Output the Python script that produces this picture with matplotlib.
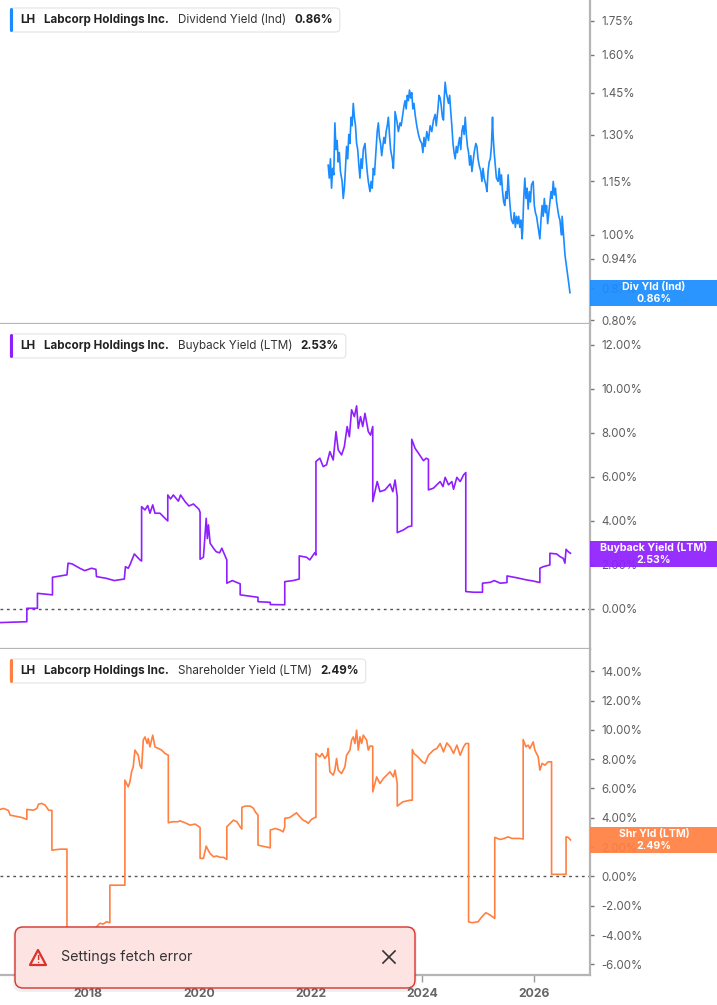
import matplotlib.pyplot as plt
import matplotlib.transforms as mtransforms
from matplotlib.patches import FancyBboxPatch, Rectangle, Polygon
from matplotlib.lines import Line2D
from matplotlib.ticker import NullLocator

plt.rcParams['font.family'] = ['Inter', 'DejaVu Sans']

W, H = 717, 1005

# ---- Dividend Yield (Ind), % ----
div_years = [
    2022.31, 2022.33, 2022.35, 2022.37, 2022.39, 2022.41, 2022.43, 2022.45, 2022.47, 2022.49,
    2022.51, 2022.53, 2022.56, 2022.58, 2022.60, 2022.62, 2022.64, 2022.66, 2022.68, 2022.70,
    2022.72, 2022.74, 2022.76, 2022.78, 2022.80, 2022.82, 2022.84, 2022.86, 2022.88, 2022.90,
    2022.92, 2022.94, 2022.97, 2022.99, 2023.01, 2023.03, 2023.06, 2023.08, 2023.10, 2023.12,
    2023.14, 2023.17, 2023.19, 2023.21, 2023.23, 2023.25, 2023.27, 2023.29, 2023.31, 2023.33,
    2023.35, 2023.37, 2023.39, 2023.41, 2023.43, 2023.46, 2023.48, 2023.50, 2023.51, 2023.54,
    2023.57, 2023.60, 2023.62, 2023.65, 2023.67, 2023.69, 2023.71, 2023.73, 2023.75, 2023.77,
    2023.79, 2023.81, 2023.83, 2023.85, 2023.87, 2023.90, 2023.93, 2023.96, 2023.99, 2024.01,
    2024.03, 2024.05, 2024.08, 2024.11, 2024.14, 2024.17, 2024.20, 2024.23, 2024.25, 2024.28,
    2024.30, 2024.32, 2024.34, 2024.36, 2024.38, 2024.39, 2024.41, 2024.43, 2024.45, 2024.47,
    2024.49, 2024.51, 2024.53, 2024.55, 2024.57, 2024.59, 2024.61, 2024.63, 2024.65, 2024.67,
    2024.69, 2024.71, 2024.73, 2024.75, 2024.77, 2024.79, 2024.81, 2024.83, 2024.85, 2024.87,
    2024.89, 2024.91, 2024.93, 2024.96, 2024.98, 2025.00, 2025.02, 2025.05, 2025.07, 2025.09,
    2025.11, 2025.14, 2025.16, 2025.18, 2025.20, 2025.22, 2025.24, 2025.26, 2025.27, 2025.29,
    2025.31, 2025.33, 2025.36, 2025.38, 2025.40, 2025.42, 2025.44, 2025.46, 2025.48, 2025.50,
    2025.52, 2025.54, 2025.56, 2025.58, 2025.60, 2025.63, 2025.65, 2025.67, 2025.69, 2025.71,
    2025.73, 2025.75, 2025.77, 2025.79, 2025.80, 2025.82, 2025.84, 2025.86, 2025.88, 2025.90,
    2025.92, 2025.94, 2025.96, 2025.99, 2026.01, 2026.03, 2026.05, 2026.07, 2026.09, 2026.11,
    2026.13, 2026.15, 2026.17, 2026.19, 2026.21, 2026.23, 2026.25, 2026.27, 2026.29, 2026.31,
    2026.33, 2026.35, 2026.37, 2026.39, 2026.41, 2026.43, 2026.45, 2026.47, 2026.49, 2026.50,
    2026.51, 2026.52, 2026.54, 2026.56, 2026.58, 2026.59, 2026.61, 2026.63, 2026.65,
]
div_vals = [
    1.20, 1.16, 1.22, 1.13, 1.19, 1.17, 1.34, 1.25, 1.28, 1.21,
    1.24, 1.18, 1.15, 1.10, 1.13, 1.19, 1.26, 1.22, 1.30, 1.27,
    1.36, 1.33, 1.41, 1.36, 1.33, 1.27, 1.25, 1.20, 1.16, 1.22,
    1.19, 1.25, 1.27, 1.22, 1.18, 1.15, 1.12, 1.15, 1.13, 1.19,
    1.17, 1.25, 1.31, 1.34, 1.29, 1.27, 1.23, 1.26, 1.29, 1.27,
    1.31, 1.33, 1.36, 1.30, 1.25, 1.22, 1.19, 1.28, 1.38, 1.35,
    1.31, 1.34, 1.33, 1.37, 1.40, 1.42, 1.39, 1.44, 1.42, 1.46,
    1.43, 1.45, 1.39, 1.41, 1.37, 1.33, 1.30, 1.28, 1.27, 1.24,
    1.29, 1.26, 1.31, 1.28, 1.33, 1.31, 1.35, 1.37, 1.33, 1.39,
    1.44, 1.43, 1.40, 1.36, 1.35, 1.42, 1.49, 1.45, 1.43, 1.41,
    1.44, 1.38, 1.33, 1.27, 1.24, 1.22, 1.26, 1.24, 1.27, 1.29,
    1.25, 1.31, 1.33, 1.30, 1.36, 1.30, 1.26, 1.24, 1.20, 1.23,
    1.18, 1.21, 1.24, 1.27, 1.26, 1.22, 1.20, 1.18, 1.15, 1.19,
    1.16, 1.14, 1.12, 1.18, 1.21, 1.22, 1.26, 1.36, 1.30, 1.24,
    1.20, 1.16, 1.15, 1.19, 1.14, 1.17, 1.12, 1.09, 1.08, 1.12,
    1.10, 1.17, 1.11, 1.07, 1.04, 1.03, 1.06, 1.02, 1.05, 1.03,
    1.05, 1.02, 1.04, 0.99, 1.01, 1.10, 1.16, 1.10, 1.13, 1.07,
    1.12, 1.09, 1.14, 1.15, 1.08, 1.06, 1.05, 1.03, 1.01, 0.99,
    1.04, 1.08, 1.05, 1.10, 1.06, 1.08, 1.03, 1.06, 1.09, 1.12,
    1.10, 1.15, 1.11, 1.13, 1.09, 1.07, 1.05, 1.04, 1.01, 1.00,
    1.05, 1.03, 0.99, 0.95, 0.93, 0.92, 0.90, 0.88, 0.86,
]

# ---- Buyback Yield (LTM), % ----
bb_years = [
    2016.42, 2016.90, 2016.90, 2017.09, 2017.09, 2017.36, 2017.36, 2017.62, 2017.64, 2017.71,
    2017.85, 2017.94, 2018.06, 2018.14, 2018.15, 2018.33, 2018.47, 2018.65, 2018.67, 2018.72,
    2018.75, 2018.83, 2018.93, 2018.96, 2018.96, 2019.02, 2019.07, 2019.11, 2019.16, 2019.20,
    2019.29, 2019.38, 2019.43, 2019.43, 2019.48, 2019.53, 2019.62, 2019.66, 2019.74, 2019.81,
    2019.89, 2019.99, 2020.01, 2020.01, 2020.07, 2020.12, 2020.14, 2020.16, 2020.19, 2020.25,
    2020.30, 2020.36, 2020.40, 2020.49, 2020.49, 2020.59, 2020.73, 2020.73, 2021.05, 2021.05,
    2021.27, 2021.27, 2021.53, 2021.53, 2021.68, 2021.79, 2021.79, 2021.92, 2021.98, 2022.07,
    2022.09, 2022.09, 2022.16, 2022.22, 2022.28, 2022.34, 2022.40, 2022.45, 2022.49, 2022.55,
    2022.60, 2022.65, 2022.69, 2022.73, 2022.78, 2022.82, 2022.85, 2022.89, 2022.93, 2022.97,
    2023.03, 2023.07, 2023.11, 2023.11, 2023.19, 2023.24, 2023.33, 2023.42, 2023.47, 2023.51,
    2023.55, 2023.55, 2023.66, 2023.75, 2023.81, 2023.81, 2023.87, 2023.93, 2024.02, 2024.07,
    2024.11, 2024.11, 2024.20, 2024.26, 2024.32, 2024.37, 2024.41, 2024.47, 2024.53, 2024.56,
    2024.62, 2024.68, 2024.74, 2024.78, 2024.78, 2024.92, 2025.08, 2025.08, 2025.22, 2025.29,
    2025.40, 2025.52, 2025.52, 2025.69, 2025.87, 2025.99, 2026.11, 2026.11, 2026.17, 2026.29,
    2026.29, 2026.41, 2026.47, 2026.53, 2026.56, 2026.58, 2026.62, 2026.66,
]
bb_vals = [
    -0.62, -0.58, 0.03, 0.03, 0.71, 0.64, 1.44, 1.55, 2.08, 2.05,
    1.85, 1.74, 1.85, 1.80, 1.47, 1.39, 1.29, 1.36, 1.92, 1.85,
    2.00, 2.50, 2.23, 2.18, 4.65, 4.50, 4.70, 4.35, 4.73, 4.35,
    4.35, 4.12, 4.00, 5.18, 5.00, 5.18, 4.90, 5.18, 4.88, 4.68,
    4.77, 4.53, 4.39, 2.26, 2.35, 4.12, 3.20, 3.82, 2.99, 2.76,
    2.60, 2.55, 2.76, 2.23, 1.17, 1.29, 1.14, 0.64, 0.53, 0.33,
    0.30, 0.20, 0.19, 1.24, 1.29, 1.36, 2.41, 2.35, 2.23, 2.56,
    2.45, 6.70, 6.85, 6.47, 6.55, 7.15, 6.77, 8.06, 7.23, 7.00,
    7.38, 8.29, 7.83, 9.05, 8.74, 9.23, 8.21, 8.74, 8.29, 8.89,
    8.06, 7.90, 8.29, 4.88, 5.79, 5.33, 5.41, 5.68, 5.33, 5.86,
    5.11, 3.47, 3.59, 3.74, 3.77, 7.71, 7.30, 7.08, 6.74, 6.85,
    6.80, 5.41, 5.49, 5.64, 5.79, 5.56, 5.98, 5.64, 5.79, 5.44,
    5.98, 5.79, 6.09, 6.20, 0.79, 0.76, 0.76, 1.17, 1.21, 1.29,
    1.17, 1.20, 1.50, 1.42, 1.32, 1.27, 1.20, 1.85, 1.92, 2.00,
    2.53, 2.50, 2.38, 2.30, 2.08, 2.71, 2.60, 2.53,
]

# ---- Shareholder Yield (LTM), % ----
shr_years = [
    2016.42, 2016.48, 2016.57, 2016.60, 2016.69, 2016.81, 2016.90, 2016.90, 2017.02, 2017.08,
    2017.11, 2017.17, 2017.23, 2017.29, 2017.35, 2017.35, 2017.50, 2017.62, 2017.62, 2017.94,
    2018.15, 2018.21, 2018.27, 2018.33, 2018.39, 2018.39, 2018.66, 2018.66, 2018.72, 2018.75,
    2018.78, 2018.81, 2018.84, 2018.90, 2018.93, 2018.96, 2018.99, 2019.02, 2019.06, 2019.08,
    2019.11, 2019.16, 2019.20, 2019.26, 2019.32, 2019.38, 2019.44, 2019.44, 2019.51, 2019.61,
    2019.65, 2019.74, 2019.83, 2019.92, 2020.01, 2020.01, 2020.07, 2020.12, 2020.16, 2020.19,
    2020.25, 2020.31, 2020.37, 2020.43, 2020.49, 2020.49, 2020.55, 2020.61, 2020.67, 2020.73,
    2020.76, 2020.76, 2020.82, 2020.91, 2020.97, 2021.00, 2021.05, 2021.05, 2021.12, 2021.27,
    2021.27, 2021.36, 2021.45, 2021.50, 2021.53, 2021.53, 2021.62, 2021.74, 2021.80, 2021.86,
    2021.92, 2021.95, 2022.01, 2022.07, 2022.09, 2022.09, 2022.16, 2022.20, 2022.25, 2022.29,
    2022.31, 2022.34, 2022.40, 2022.43, 2022.46, 2022.49, 2022.55, 2022.61, 2022.64, 2022.70,
    2022.73, 2022.76, 2022.79, 2022.82, 2022.85, 2022.88, 2022.91, 2022.94, 2023.00, 2023.03,
    2023.06, 2023.11, 2023.11, 2023.18, 2023.24, 2023.30, 2023.36, 2023.42, 2023.48, 2023.51,
    2023.55, 2023.55, 2023.65, 2023.78, 2023.82, 2023.82, 2023.85, 2023.92, 2024.00, 2024.05,
    2024.11, 2024.20, 2024.26, 2024.32, 2024.38, 2024.44, 2024.50, 2024.56, 2024.62, 2024.68,
    2024.74, 2024.78, 2024.83, 2024.83, 2024.89, 2025.00, 2025.07, 2025.14, 2025.22, 2025.30,
    2025.30, 2025.40, 2025.47, 2025.54, 2025.61, 2025.75, 2025.81, 2025.81, 2025.86, 2025.90,
    2025.93, 2025.99, 2026.02, 2026.08, 2026.11, 2026.15, 2026.20, 2026.26, 2026.32, 2026.32,
    2026.58, 2026.58, 2026.62, 2026.66,
]
shr_vals = [
    4.57, 4.64, 4.50, 4.18, 4.11, 4.02, 3.89, 4.57, 4.52, 4.64,
    4.93, 4.98, 4.86, 4.52, 4.50, 1.79, 1.86, 1.86, -4.30, -4.00,
    -3.44, -3.20, -3.25, -3.10, -3.16, -0.60, -0.60, 6.57, 6.11, 6.45,
    7.14, 7.48, 8.62, 8.27, 7.59, 7.37, 9.30, 9.52, 9.07, 9.41,
    8.84, 9.64, 8.84, 8.73, 8.62, 8.39, 8.27, 3.66, 3.73, 3.73,
    3.79, 3.66, 3.50, 3.57, 3.34, 1.23, 1.23, 2.07, 1.75, 1.57,
    1.34, 1.39, 1.30, 1.30, 1.16, 3.38, 3.62, 3.84, 3.73, 3.38,
    3.23, 4.71, 4.80, 4.80, 4.64, 4.41, 4.18, 2.14, 2.07, 1.95,
    3.16, 3.27, 3.16, 3.04, 3.38, 3.96, 4.02, 4.34, 4.07, 3.84,
    3.73, 3.62, 3.89, 4.02, 4.02, 8.39, 8.16, 8.39, 8.05, 8.27,
    8.73, 7.14, 6.91, 7.25, 8.05, 7.25, 7.02, 7.48, 8.27, 8.62,
    9.30, 9.52, 9.07, 9.98, 8.62, 9.52, 9.07, 9.64, 9.30, 8.62,
    8.89, 8.89, 5.77, 6.79, 6.34, 6.68, 6.91, 7.14, 6.79, 7.25,
    6.34, 4.80, 5.09, 5.20, 5.20, 8.66, 8.39, 8.16, 7.82, 7.71,
    8.27, 8.62, 8.73, 9.07, 8.50, 9.11, 8.84, 8.39, 8.96, 8.27,
    8.84, 9.07, 9.07, -3.10, -3.16, -3.10, -2.75, -2.48, -2.64, -2.87,
    2.66, 2.52, 2.59, 2.70, 2.59, 2.59, 2.55, 9.34, 8.84, 8.96,
    8.73, 9.18, 8.62, 8.16, 7.25, 7.71, 7.59, 7.82, 7.82, 0.14,
    0.14, 2.70, 2.66, 2.49,
]

year_ticks = [2018, 2020, 2022, 2024, 2026]
div_ticks = [0.80, 0.87, 0.94, 1.00, 1.15, 1.30, 1.45, 1.60, 1.75]
bb_ticks = [0, 2, 4, 6, 8, 10, 12]
shr_ticks = [-6, -4, -2, 0, 2, 4, 6, 8, 10, 12, 14]

BLUE = '#1a8cff'
PURPLE = '#8f1fff'
ORANGE = '#ff8040'
PLOT_R = 590
X0, X1 = 2016.418, 2027.01

fig = plt.figure(figsize=(W / 100, H / 100), dpi=100)
ident = mtransforms.IdentityTransform()


def make_ax(top, bottom, ylim, ticks, fmt, log=False):
    ax = fig.add_axes([0, 1 - bottom / H, PLOT_R / W, (bottom - top) / H])
    if log:
        ax.set_yscale('log')
    ax.set_xlim(X0, X1)
    ax.set_ylim(*ylim)
    for s in ['left', 'top']:
        ax.spines[s].set_visible(False)
    for s in ['right', 'bottom']:
        ax.spines[s].set_color('#b5b5b5')
        ax.spines[s].set_linewidth(1.6)
    ax.yaxis.tick_right()
    ax.set_yticks(ticks)
    ax.set_yticklabels([fmt.format(t) for t in ticks])
    ax.yaxis.set_minor_locator(NullLocator())
    ax.tick_params(axis='y', length=3, width=1, color='#777', labelcolor='#5e5e5e',
                   labelsize=8.3, pad=5)
    ax.set_xticks(year_ticks)
    ax.xaxis.set_minor_locator(NullLocator())
    ax.tick_params(axis='x', bottom=False, labelbottom=False)
    return ax


def px_box(x, top, w, h, **kw):
    # rectangle given in figure pixels, measured from the top
    return FancyBboxPatch((x, H - top - h), w, h, transform=ident, **kw)


def value_tag(ax, val, color, line1, line2):
    y_disp = ax.transData.transform((X1, val))[1]
    fig.patches.append(Rectangle((PLOT_R, y_disp - 13), W - PLOT_R, 26, transform=ident,
                                 fc=color, ec='none', alpha=0.93, zorder=6))
    fig.text((PLOT_R + 64) / W, (y_disp + 6) / H, line1, color='white', fontsize=7.6,
             fontweight='bold', ha='center', va='center', zorder=7)
    fig.text((PLOT_R + 64) / W, (y_disp - 6) / H, line2, color='white', fontsize=7.6,
             fontweight='bold', ha='center', va='center', zorder=7)


renderer = fig.canvas.get_renderer()


def header(cy, color, metric, value):
    parts = [('LH', 'bold', '#222'), ('Labcorp Holdings Inc.', 'bold', '#222'),
             (metric, 'normal', '#333'), (value, 'bold', '#222')]
    x = 20.7
    for s, wgt, c in parts:
        t = fig.text(x / W, 1 - cy / H, s, fontsize=8.4, fontweight=wgt, color=c,
                     ha='left', va='center', zorder=9)
        x += t.get_window_extent(renderer).width + 8.5
    right = x - 8.5 + 7
    fig.patches.append(px_box(10, cy - 12, right - 10, 24,
                              boxstyle='round,pad=0,rounding_size=4',
                              fc='white', ec='#e4e4e4', lw=0.8, zorder=8))
    fig.patches.append(px_box(10, cy - 12, 3, 24, boxstyle='round,pad=0,rounding_size=1.5',
                              fc=color, ec='none', zorder=8.5))


# panel 1: dividend yield (log scale)
ax1 = make_ax(0, 324, (0.7926, 1.847), div_ticks, '{:.2f}%', log=True)
ax1.plot(div_years, div_vals, color=BLUE, lw=1.2)

# panel 2: buyback yield
ax2 = make_ax(324, 649, (-1.82, 12.95), bb_ticks, '{:.2f}%')
ax2.axhline(0, color='#555', lw=1, ls=(0, (2, 2.6)))
ax2.plot(bb_years, bb_vals, color=PURPLE, lw=1.2)

# panel 3: shareholder yield
ax3 = make_ax(649, 975, (-6.73, 15.52), shr_ticks, '{:.2f}%')
ax3.axhline(0, color='#555', lw=1, ls=(0, (2, 2.6)))
ax3.plot(shr_years, shr_vals, color=ORANGE, lw=1.2)
ax3.tick_params(axis='x', bottom=True, labelbottom=True, length=5, width=1,
                color='#999', labelcolor='#666', labelsize=8.8, pad=4)
ax3.set_xticklabels([str(y) for y in year_ticks], fontweight='bold')

value_tag(ax1, div_vals[-1], BLUE, 'Div Yld (Ind)', '0.86%')
value_tag(ax2, 2.50, PURPLE, 'Buyback Yield (LTM)', '2.53%')
value_tag(ax3, 2.50, ORANGE, 'Shr Yld (LTM)', '2.49%')

header(20, BLUE, 'Dividend Yield (Ind)', '0.86%')
header(346, PURPLE, 'Buyback Yield (LTM)', '2.53%')
header(671, ORANGE, 'Shareholder Yield (LTM)', '2.49%')

# error toast at bottom left
fig.patches.append(px_box(13, 926, 404, 66, boxstyle='round,pad=0,rounding_size=9',
                          fc='#000000', ec='none', alpha=0.06, zorder=10))
fig.patches.append(px_box(15, 927, 400, 61, boxstyle='round,pad=0,rounding_size=8',
                          fc='#fee3e3', ec='#d9322a', lw=1.0, zorder=11))
tri = [(30, H - 965), (46, H - 965), (38, H - 950)]
fig.patches.append(Polygon(tri, closed=True, transform=ident, fill=False, ec='#d9322a',
                           lw=1.6, joinstyle='round', zorder=12))
fig.text(38 / W, 1 - 959.5 / H, '!', color='#d9322a', fontsize=7, fontweight='bold',
         ha='center', va='center', zorder=12)
fig.text(61 / W, 1 - 957 / H, 'Settings fetch error', color='#333', fontsize=10.3,
         ha='left', va='center', zorder=12)
for a, b in [((383, 951), (395, 963)), ((383, 963), (395, 951))]:
    fig.lines.append(Line2D([a[0], b[0]], [H - a[1], H - b[1]], transform=ident,
                            color='#333', lw=1.2, zorder=12))

fig.savefig('out.png', dpi=100)
